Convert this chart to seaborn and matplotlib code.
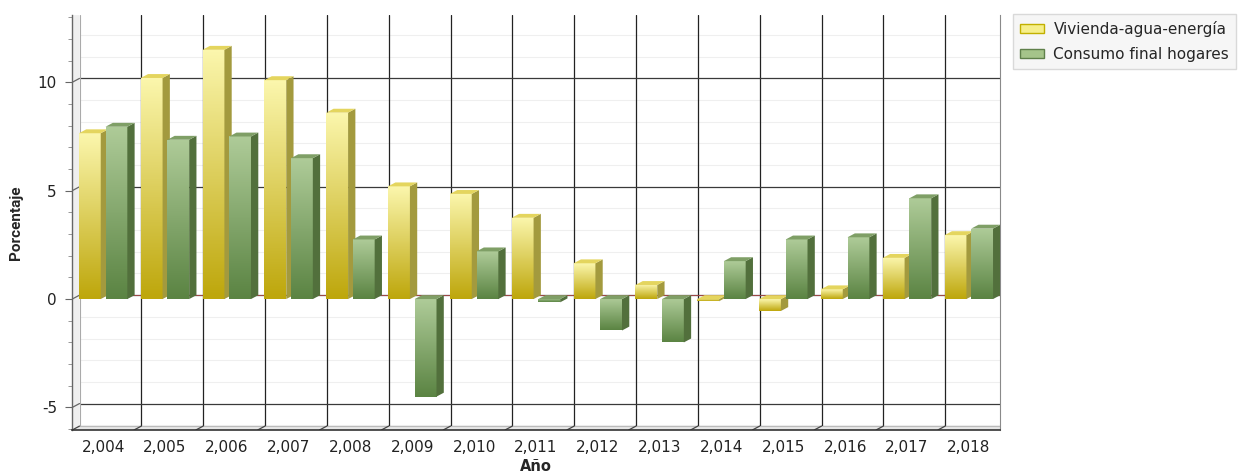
import numpy as np
import pandas as pd
import matplotlib
matplotlib.use("Agg")
import matplotlib.pyplot as plt
import seaborn as sns
from matplotlib.patches import Polygon, Rectangle
from matplotlib.colors import LinearSegmentedColormap

# data
years = ["2,004", "2,005", "2,006", "2,007", "2,008", "2,009", "2,010", "2,011",
         "2,012", "2,013", "2,014", "2,015", "2,016", "2,017", "2,018"]
vivienda = [7.65, 10.2, 11.5, 10.1, 8.6, 5.2, 4.85, 3.75, 1.65, 0.65, -0.1, -0.55, 0.45, 1.9, 2.95]
consumo = [7.95, 7.35, 7.5, 6.5, 2.75, -4.5, 2.2, -0.15, -1.45, -2.0, 1.75, 2.75, 2.85, 4.65, 3.25]
series = ["Vivienda-agua-energía", "Consumo final hogares"]
yticks = [-5, 0, 5, 10]

df = pd.DataFrame({
    "Año": years * 2,
    "Porcentaje": vivienda + consumo,
    "Serie": [series[0]] * len(years) + [series[1]] * len(years),
})

# colours: (light top, dark bottom, side, top face, legend face, legend edge)
styles = [
    ("#fbf6ac", "#bea70c", "#a39a3e", "#e4d55e", "#f6ef8a", "#c2b000"),
    ("#aecb98", "#5b8443", "#52703c", "#7f9f66", "#a5c48a", "#5f804a"),
]

sns.set_style("white")
plt.rcParams["font.family"] = ["DejaVu Sans"]
plt.rcParams["axes.unicode_minus"] = False

fig = plt.figure(figsize=(12.45, 4.72), dpi=100)
ax = fig.add_axes([0.058, 0.089, 0.745, 0.879])

sns.barplot(data=df, x="Año", y="Porcentaje", hue="Serie",
            palette=[s[3] for s in styles], width=0.86, gap=0.18,
            legend=False, ax=ax)

ymin, ymax = -6.04, 13.1
xlo, xhi = -0.5, len(years) - 0.5

# fake 3d depth in data units
dx, dy = 0.118, 0.18

for ci, cont in enumerate(ax.containers):
    light, dark, side, topc = styles[ci][:4]
    cmap = LinearSegmentedColormap.from_list("g%d" % ci, [light, dark])
    for bar in cont:
        x0 = bar.get_x()
        x1 = x0 + bar.get_width()
        y0 = bar.get_y()
        h = bar.get_height()
        lo, hi = min(y0, y0 + h), max(y0, y0 + h)
        z = 3 + ci + 2 * (x0 + 1)
        bar.set_facecolor("none")
        bar.set_edgecolor("none")
        grad = np.linspace(0, 1, 64).reshape(-1, 1)
        im = ax.imshow(grad, cmap=cmap, extent=[x0, x1, lo, hi], origin="upper",
                       aspect="auto", zorder=z, interpolation="bilinear")
        im.set_clip_path(bar)
        ax.add_patch(Polygon([(x1, lo), (x1, hi), (x1 + dx, hi + dy), (x1 + dx, lo + dy)],
                             closed=True, facecolor=side, edgecolor="none", zorder=z))
        ax.add_patch(Polygon([(x0, hi), (x1, hi), (x1 + dx, hi + dy), (x0 + dx, hi + dy)],
                             closed=True, facecolor=topc, edgecolor="none", zorder=z))

ax.set_xlim(xlo, xhi)
ax.set_ylim(ymin, ymax)

# walls
ax.add_patch(Polygon([(xlo, ymin), (xlo + dx, ymin + dy), (xlo + dx, ymax), (xlo, ymax)],
                     closed=True, facecolor="#efefef", edgecolor="none", zorder=1))
ax.add_patch(Polygon([(xlo, ymin), (xhi, ymin), (xhi, ymin + dy), (xlo + dx, ymin + dy)],
                     closed=True, facecolor="#e6e6e6", edgecolor="none", zorder=1))
ax.plot([xlo + dx, xlo + dx], [ymin + dy, ymax], color="#aaaaaa", lw=0.8, zorder=1.2)
ax.plot([xlo + dx, xhi], [ymin + dy, ymin + dy], color="#bbbbbb", lw=0.8, zorder=1.2)

# grid on the back wall, with slanted connectors to the front axes
for v in np.arange(-6, 14):
    if v not in yticks:
        ax.plot([xlo + dx, xhi], [v + dy, v + dy], color="#efefef", lw=0.8, zorder=0.5)
for v in yticks:
    ax.plot([xlo + dx, xhi], [v + dy, v + dy], color="#3a3a3a", lw=0.9, zorder=0.9)
    ax.plot([xlo, xlo + dx], [v, v + dy], color="#666666", lw=0.9, zorder=1.3)
for k in range(len(years) - 1):
    ax.plot([k + 0.5 + dx, k + 0.5 + dx], [ymin + dy, ymax], color="#222222", lw=0.9, zorder=0.8)
for k in range(len(years)):
    ax.plot([k - 0.5, k - 0.5 + dx], [ymin, ymin + dy], color="#444444", lw=0.9, zorder=1.3)
ax.plot([xlo + dx, xhi], [dy, dy], color="#a04848", lw=0.7, zorder=1.5)

# axes
ax.spines["left"].set_color("#666666")
ax.spines["bottom"].set_color("#333333")
ax.spines["left"].set_linewidth(1.0)
ax.spines["bottom"].set_linewidth(1.2)
ax.spines["right"].set_color("#8a8a8a")
ax.spines["top"].set_visible(False)

ax.set_yticks(yticks)
ax.set_yticks(np.arange(-6, 14), minor=True)
ax.set_xticks(range(len(years)))
ax.set_xticklabels(years)
ax.set_xticks(np.arange(-0.5, len(years)), minor=True)
ax.tick_params(axis="x", which="major", length=0, pad=7, labelsize=11, labelcolor="#222222")
ax.tick_params(axis="x", which="minor", length=5, color="#333333", direction="out")
ax.tick_params(axis="y", which="major", length=5, pad=6, labelsize=11, labelcolor="#222222",
               left=True, color="#666666")
ax.tick_params(axis="y", which="minor", length=3, color="#888888", left=True)

ax.set_ylabel("Porcentaje", family=["Roboto", "DejaVu Sans"],
              fontweight="bold", fontsize=11)
ax.yaxis.set_label_coords(-0.053, 0.5)
ax.set_xlabel("Año", fontweight="bold", fontsize=10.5)
ax.xaxis.set_label_coords(0.5, -0.07)

handles = [Rectangle((0, 0), 1, 1, facecolor=s[4], edgecolor=s[5], lw=1) for s in styles]
leg = fig.legend(handles, series, loc="upper left", bbox_to_anchor=(1013 / 1245, 1 - 14 / 472),
                 frameon=True, fancybox=False, edgecolor="#d9d9d9", facecolor="#f6f6f6",
                 fontsize=11, handlelength=1.6, handleheight=0.6, handletextpad=0.6,
                 labelspacing=0.65, borderpad=0.45, borderaxespad=0)
leg.get_frame().set_alpha(1)

fig.savefig("out.png", dpi=100)
